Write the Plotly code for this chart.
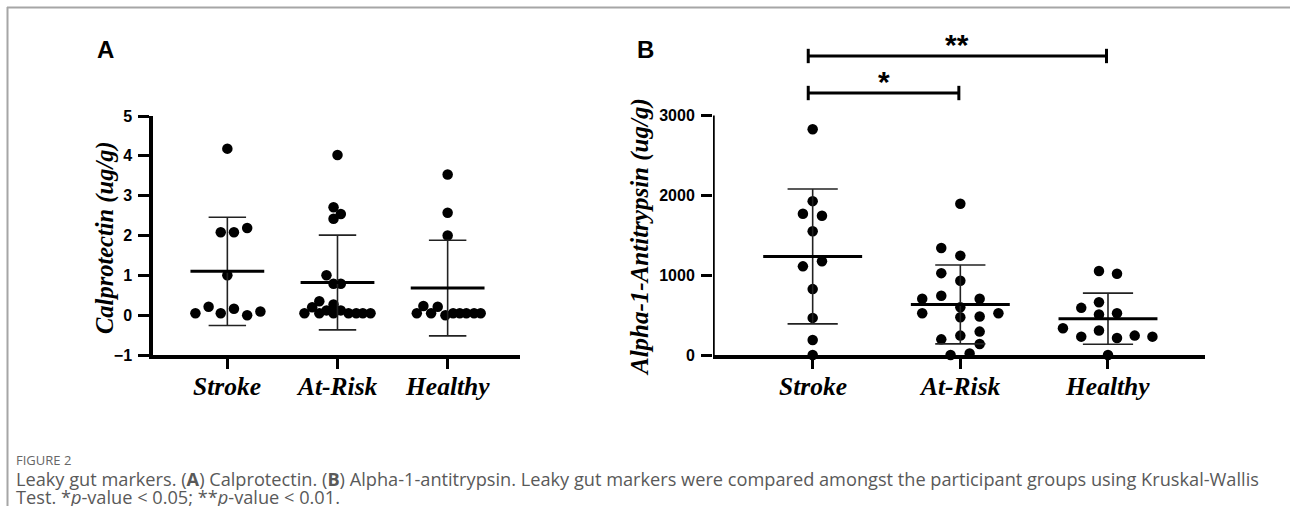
import plotly.graph_objects as go

# ---------------- data ----------------
groups = ["Stroke", "At-Risk", "Healthy"]

# Panel A: Calprotectin (ug/g)
a_stroke = [4.18, 2.08, 2.08, 2.19, 1.00, 0.05, 0.21, 0.05, 0.16, 0.00, 0.09]
a_stroke_dx = [0, -0.06, 0.06, 0.18, 0, -0.29, -0.17, -0.06, 0.06, 0.18, 0.30]
a_atrisk = [4.02, 2.71, 2.54, 2.42, 1.00, 0.79, 0.79, 0.35, 0.27, 0.20, 0.12, 0.12,
            0.05, 0.05, 0.05, 0.05, 0.05, 0.05, 0.05]
a_atrisk_dx = [0, -0.036, 0.03, -0.036, -0.10, -0.036, 0.03, -0.165, -0.036, -0.23, -0.10, 0.03,
               -0.30, -0.165, -0.036, 0.10, 0.17, 0.23, 0.30]
a_healthy = [3.53, 2.57, 2.00, 0.05, 0.23, 0.05, 0.21, 0.00, 0.05, 0.05, 0.05, 0.05, 0.05]
a_healthy_dx = [0, 0, 0, -0.28, -0.22, -0.15, -0.09, -0.02, 0.05, 0.11, 0.17, 0.24, 0.30]
a_mean = [1.10, 0.82, 0.68]
a_sd = [1.36, 1.19, 1.20]

# Panel B: Alpha-1-Antitrypsin (ug/g)
b_stroke = [2830, 1928, 1770, 1745, 1551, 1111, 1174, 826, 465, 189, 0]
b_stroke_dx = [0, 0, -0.066, 0.063, 0, -0.066, 0.063, 0, 0, 0, 0]
b_atrisk = [1896, 1341, 1245, 1026, 930, 704, 742, 704, 599, 523, 473, 482, 523,
            243, 196, 293, 138, 0, 20]
b_atrisk_dx = [0, -0.129, 0, -0.129, 0, -0.258, -0.129, 0.131, 0, -0.258, 0, 0.131, 0.258,
               0, -0.129, 0.131, 0.131, -0.066, 0.063]
b_healthy = [1052, 1019, 591, 662, 507, 523, 335, 230, 306, 214, 243, 230, 0]
b_healthy_dx = [-0.061, 0.061, -0.181, -0.061, -0.061, 0.061, -0.305, -0.181, -0.061,
                0.061, 0.181, 0.301, 0]
b_mean = [1235, 633, 455]
b_sd = [845, 494, 320]

a_ticks = [-1, 0, 1, 2, 3, 4, 5]
b_ticks = [0, 1000, 2000, 3000]

# significance brackets (panel B): (from group, to group, y, label)
sig_pairs = [(0, 2, 3747, "**"), (0, 1, 3283, "*")]

caption_title = "FIGURE 2"
caption_1 = ("Leaky gut markers. (<b>A</b>) Calprotectin. (<b>B</b>) Alpha-1-antitrypsin. "
             "Leaky gut markers were compared amongst the participant groups using Kruskal-Wallis")
caption_2 = "Test. *<i>p</i>-value < 0.05; **<i>p</i>-value < 0.01."

# ---------------- figure ----------------
W, H = 1290, 506
SANS = "Liberation Sans, Arial, sans-serif"
SERIF = "Liberation Serif, Times New Roman, serif"

fig = go.Figure()

panels = [
    ("x", "y", [a_stroke, a_atrisk, a_healthy], [a_stroke_dx, a_atrisk_dx, a_healthy_dx], a_mean, a_sd),
    ("x2", "y2", [b_stroke, b_atrisk, b_healthy], [b_stroke_dx, b_atrisk_dx, b_healthy_dx], b_mean, b_sd),
]

shapes = []
annotations = []
for xa, ya, vals, dxs, means, sds in panels:
    for gi, (v, dx) in enumerate(zip(vals, dxs)):
        fig.add_trace(go.Scatter(
            x=[gi + d for d in dx], y=v, mode="markers", xaxis=xa, yaxis=ya,
            marker=dict(color="black", size=10.5, line=dict(width=0)),
            cliponaxis=False, showlegend=False, hoverinfo="y"))
    for gi in range(3):
        m, s = means[gi], sds[gi]
        shapes.append(dict(type="line", xref=xa, yref=ya, x0=gi, x1=gi, y0=m - s, y1=m + s,
                           line=dict(color="#222", width=1.6)))
        for yy in (m - s, m + s):
            shapes.append(dict(type="line", xref=xa, yref=ya, x0=gi - 0.17, x1=gi + 0.17,
                               y0=yy, y1=yy, line=dict(color="#222", width=1.6)))
        shapes.append(dict(type="line", xref=xa, yref=ya, x0=gi - 0.335, x1=gi + 0.335,
                           y0=m, y1=m, line=dict(color="black", width=3)))
        # category label
        annotations.append(dict(xref=xa, yref="paper", x=gi, y=1 - 386 / H, text=groups[gi],
                                showarrow=False, xanchor="center", yanchor="middle",
                                font=dict(family=SERIF, size=25.5, color="black",
                                          weight="bold", style="italic")))

XR = [-0.675, 2.657]

# B y-axis line (0..3000 only)
shapes.append(dict(type="line", xref="x2", yref="y2", x0=XR[0], x1=XR[0], y0=0, y1=3000,
                   line=dict(color="black", width=3.5)))

for g0, g1, yb, lab in sig_pairs:
    shapes.append(dict(type="line", xref="x2", yref="y2", x0=g0 - 0.03, x1=g1 - 0.01,
                       y0=yb, y1=yb, line=dict(color="black", width=3)))
    for gx in (g0 - 0.03, g1 - 0.01):
        shapes.append(dict(type="line", xref="x2", yref="y2", x0=gx, x1=gx,
                           y0=yb - 90, y1=yb + 90, line=dict(color="black", width=3)))
    annotations.append(dict(xref="x2", yref="y2", x=(g0 + g1) / 2 - 0.02, y=yb + 150,
                            yanchor="middle", text=lab, showarrow=False,
                            font=dict(family=SANS, size=30, color="black", weight="bold")))

# frame lines
shapes.append(dict(type="line", xref="paper", yref="paper", x0=7 / W, x1=1, y0=1 - 7.5 / H,
                   y1=1 - 7.5 / H, line=dict(color="#a6a6a6", width=2)))
shapes.append(dict(type="line", xref="paper", yref="paper", x0=7.5 / W, x1=7.5 / W, y0=0,
                   y1=1 - 7 / H, line=dict(color="#a6a6a6", width=2)))

# panel letters
annotations.append(dict(xref="paper", yref="paper", x=105 / W, y=1 - 49 / H, text="A",
                        showarrow=False, xanchor="center", yanchor="middle",
                        font=dict(family=SANS, size=24, color="black", weight="bold")))
annotations.append(dict(xref="paper", yref="paper", x=645 / W, y=1 - 50 / H, text="B",
                        showarrow=False, xanchor="center", yanchor="middle",
                        font=dict(family=SANS, size=24, color="black", weight="bold")))

# y titles
annotations.append(dict(xref="paper", yref="paper", x=105 / W, y=1 - 238 / H,
                        text="Calprotectin (ug/g)", textangle=-90, showarrow=False,
                        xanchor="center", yanchor="middle",
                        font=dict(family=SERIF, size=24.5, color="black", weight="bold", style="italic")))
annotations.append(dict(xref="paper", yref="paper", x=640 / W, y=1 - 237 / H,
                        text="Alpha-1-Antitrypsin (ug/g)", textangle=-90, showarrow=False,
                        xanchor="center", yanchor="middle",
                        font=dict(family=SERIF, size=25, color="black", weight="bold", style="italic")))

# caption
annotations.append(dict(xref="paper", yref="paper", x=14 / W, y=1 - 460 / H, text=caption_title,
                        showarrow=False, xanchor="left", yanchor="middle",
                        font=dict(family="Open Sans", size=13, color="#666666")))
annotations.append(dict(xref="paper", yref="paper", x=14 / W, y=1 - 479 / H, text=caption_1,
                        showarrow=False, xanchor="left", yanchor="middle",
                        font=dict(family="Open Sans", size=18.2, color="#595959")))
annotations.append(dict(xref="paper", yref="paper", x=14 / W, y=1 - 496.5 / H, text=caption_2,
                        showarrow=False, xanchor="left", yanchor="middle",
                        font=dict(family="Open Sans", size=18.2, color="#595959")))

xaxis_common = dict(
    range=XR, tickvals=[0, 1, 2], showticklabels=False, showgrid=False, zeroline=False,
    showline=True, linecolor="black", linewidth=3.5, ticks="outside", ticklen=10,
    tickwidth=3, tickcolor="black", automargin=False,
)
yfont = dict(family=SANS, size=16, color="black", weight="bold")

fig.update_layout(
    width=W, height=H, autosize=False,
    margin=dict(l=0, r=0, t=0, b=0, pad=0, autoexpand=False),
    paper_bgcolor="white", plot_bgcolor="rgba(0,0,0,0)",
    xaxis=dict(domain=[153 / W, 520 / W], anchor="y", **xaxis_common),
    yaxis=dict(domain=[1 - 355 / H, 1 - 116 / H], anchor="x", range=[-1, 5], tickvals=a_ticks,
               showgrid=False, zeroline=False, showline=True, linecolor="black", linewidth=3.5,
               ticks="outside", ticklen=11, tickwidth=3, tickcolor="black", automargin=False,
               ticklabelstandoff=3, tickfont=yfont),
    xaxis2=dict(domain=[713 / W, 1205 / W], anchor="y2", **xaxis_common),
    yaxis2=dict(domain=[1 - 355 / H, 1 - 20 / H], anchor="x2", range=[0, 4198], tickvals=b_ticks,
                showgrid=False, zeroline=False, showline=False, automargin=False,
                ticks="outside", ticklen=11, tickwidth=3, tickcolor="black",
                ticklabelstandoff=3, tickfont=yfont),
    shapes=shapes, annotations=annotations,
)

post = ("document.documentElement.style.margin='0';document.documentElement.style.overflow='hidden';"
        "document.body.style.margin='0';document.body.style.padding='0';document.body.style.overflow='hidden';"
        "var gd=document.getElementById('{plot_id}');gd.style.position='fixed';"
        "gd.style.left='0px';gd.style.top='0px';")

fig.write_html("out.html", post_script=post,
               config={"responsive": False, "displayModeBar": False})
